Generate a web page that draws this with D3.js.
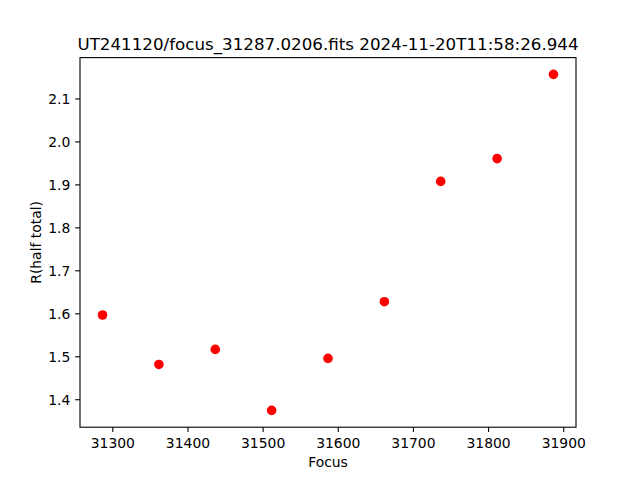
<!DOCTYPE html>
<html>
<head>
<meta charset="utf-8">
<script src="https://cdn.jsdelivr.net/npm/d3@7"></script>
<style>
  html, body { margin: 0; padding: 0; background: #fff; }
  svg { display: block; }
  text { font-family: "DejaVu Sans", sans-serif; fill: #000; }
</style>
</head>
<body>
<svg id="chart" width="640" height="480"></svg>
<script>
const titleText = "UT241120/focus_31287.0206.fits 2024-11-20T11:58:26.944";
const xLabel = "Focus";
const yLabel = "R(half total)";
const focusValues = [31287, 31362, 31437, 31512, 31587, 31662, 31737, 31812, 31887];
const radiusValues = [1.596, 1.481, 1.516, 1.374, 1.495, 1.627, 1.907, 1.960, 2.156];
const xTicks = [31300, 31400, 31500, 31600, 31700, 31800, 31900];
const yTicks = [1.4, 1.5, 1.6, 1.7, 1.8, 1.9, 2.0, 2.1];

const plotL = 80, plotR = 576, plotT = 57.6, plotB = 427.2;
const svg = d3.select("#chart");

function padded(vals) {
  const [a, b] = d3.extent(vals);
  const m = (b - a) * 0.05;
  return [a - m, b + m];
}

const x = d3.scaleLinear().domain(padded(focusValues)).range([plotL, plotR]);
const y = d3.scaleLinear().domain(padded(radiusValues)).range([plotB, plotT]);

const tickLen = 4.86, fs = 13.9;

// x axis
const xAxis = svg.append("g").attr("transform", `translate(0,${plotB})`)
  .call(d3.axisBottom(x).tickValues(xTicks).tickFormat(d3.format("d")).tickSizeOuter(0).tickSize(tickLen).tickPadding(4.86));
xAxis.select(".domain").remove();
xAxis.selectAll("line").attr("stroke", "#000").attr("stroke-width", 1.1);
xAxis.selectAll("text").attr("font-size", fs).attr("font-family", "DejaVu Sans").attr("dy", null).attr("y", 21).attr("fill", "#000");

// y axis
const yAxis = svg.append("g").attr("transform", `translate(${plotL},0)`)
  .call(d3.axisLeft(y).tickValues(yTicks).tickFormat(d3.format(".1f")).tickSizeOuter(0).tickSize(tickLen).tickPadding(4.86));
yAxis.select(".domain").remove();
yAxis.selectAll("line").attr("stroke", "#000").attr("stroke-width", 1.1);
yAxis.selectAll("text").attr("font-size", fs).attr("font-family", "DejaVu Sans").attr("dy", "0.36em").attr("fill", "#000");

// frame
svg.append("rect").attr("x", plotL).attr("y", plotT).attr("width", plotR - plotL).attr("height", plotB - plotT)
  .attr("fill", "none").attr("stroke", "#000").attr("stroke-width", 1.1);

// points
svg.append("g").selectAll("circle").data(focusValues).join("circle")
  .attr("cx", (d) => x(d))
  .attr("cy", (d, i) => y(radiusValues[i]))
  .attr("r", 4.8)
  .attr("fill", "#ff0000");

// title
svg.append("text").attr("x", (plotL + plotR) / 2).attr("y", 49.5)
  .attr("text-anchor", "middle").attr("font-size", 16.7).text(titleText);

// x label
svg.append("text").attr("x", (plotL + plotR) / 2).attr("y", 467)
  .attr("text-anchor", "middle").attr("font-size", fs).text(xLabel);

// y label
svg.append("text").attr("transform", `translate(40.5,${(plotT + plotB) / 2}) rotate(-90)`)
  .attr("text-anchor", "middle").attr("font-size", fs).text(yLabel);
</script>
</body>
</html>
